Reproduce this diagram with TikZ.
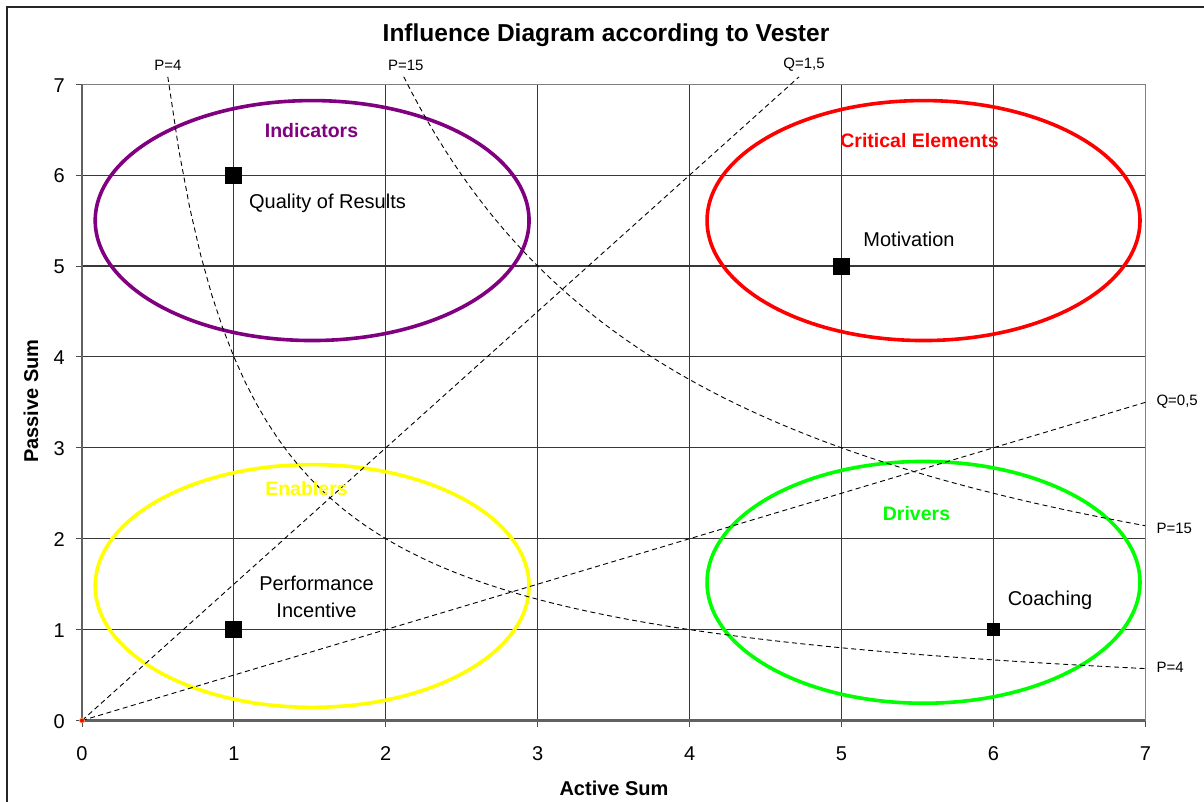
\documentclass[tikz,border=0pt]{standalone}
\usepackage{fontspec}
\setmainfont{Liberation Sans}
\begin{document}
\begin{tikzpicture}[x=1pt,y=-1pt,
  gridline/.style={line width=1.1pt,color=black!78},
  frameline/.style={line width=1.3pt,color=black!50},
  axisline/.style={line width=2.4pt,color=black!62},
  tickmark/.style={line width=1pt,color=black!70},
  guide/.style={line width=0.9pt,dash pattern=on 5pt off 3.5pt,color=black},
  zone/.style={line width=3.6pt},
  marker/.style={fill=black,draw=none,minimum size=#1,inner sep=0pt,rectangle},
  ticklbl/.style={font=\fontsize{20}{24}\selectfont,inner sep=0pt},
  itemlbl/.style={font=\fontsize{20}{26}\selectfont,inner sep=0pt,align=center},
  zonelbl/.style={font=\bfseries\fontsize{19.5}{24}\selectfont,inner sep=0pt},
  guidelbl/.style={font=\fontsize{15}{18}\selectfont,inner sep=0pt},
  titlelbl/.style={font=\bfseries\fontsize{24.5}{28}\selectfont,inner sep=0pt},
  axislbl/.style={font=\bfseries\fontsize{20}{24}\selectfont,inner sep=0pt}]
\definecolor{indic}{HTML}{800080}
\definecolor{crit}{HTML}{FF0000}
\definecolor{enab}{HTML}{FFFF00}
\definecolor{driv}{HTML}{00FF00}

\useasboundingbox (0,0) rectangle (1204,801);
\fill[white] (0,0) rectangle (1204,801);
% chart frame
\draw[line width=1.6pt,color=black!85] (7,7) rectangle (1220,820);

% title and axis titles
\node[titlelbl,anchor=base] (title) at (606,41.5) {Influence Diagram according to Vester};
\node[axislbl,anchor=base] (xtitle) at (614,795) {Active Sum};
\node[axislbl,rotate=90] (ytitle) at (31,401) {Passive Sum};

\begin{scope}[shift={(82,720.5)},x=151.9pt,y=90.9pt]
  % grid
  \foreach \i in {1,...,6} {
    \draw[gridline] (\i,0) -- (\i,7);
    \draw[gridline] (0,\i) -- (7,\i);
  }
  \draw[frameline] (0,7) -- (7,7) -- (7,0);
  % ticks
  \foreach \i in {0,...,7} {
    \draw[tickmark] (\i,0) -- ++(0,-6pt);
    \draw[tickmark] (0,\i) -- ++(-6pt,0);
    \node[ticklbl,anchor=base] (xt\i) at ([yshift=-39.5pt]\i,0) {\i};
    \node[ticklbl,anchor=east] (yt\i) at ([xshift=-17pt,yshift=-1pt]0,\i) {\i};
  }
  \draw[axisline,line width=2pt] (0,0) -- (0,7);
  \draw[axisline] (0,0) -- (7,0);

  % zones
  \draw[zone,indic] (1.515,5.5) ellipse [x radius=1.428, y radius=1.32];
  \draw[zone,crit]  (5.54,5.5)  ellipse [x radius=1.425, y radius=1.32];
  \draw[zone,enab]  (1.515,1.48) ellipse [x radius=1.428, y radius=1.335];
  \draw[zone,driv]  (5.54,1.52) ellipse [x radius=1.425, y radius=1.33];

  % guide curves P = const and lines Q = const
  \draw[guide] plot[domain=0.565:7,samples=90] (\x,{4/\x});
  \draw[guide] plot[domain=2.118:7,samples=90] (\x,{15/\x});
  \coordinate (o) at (0,0);
  \coordinate (q15) at (4.72,7.08);
  \coordinate (q05) at (7,3.5);
  \coordinate (p4t) at (0.565,7.08);
  \coordinate (p15t) at (2.118,7.08);
  \coordinate (p4r) at (7,0.5714);
  \coordinate (p15r) at (7,2.1429);
  \draw[guide] (o) -- (q15);
  \draw[guide] (o) -- (q05);

  \node[guidelbl,anchor=south] (lp4t) at ([yshift=6pt]p4t) {P=4};
  \node[guidelbl,anchor=south] (lp15t) at ([xshift=2pt,yshift=6pt]p15t) {P=15};
  \node[guidelbl,anchor=south] (lq15) at ([xshift=5pt,yshift=5pt]q15) {Q=1,5};
  \node[guidelbl,anchor=west] (lq05) at ([xshift=11pt,yshift=1pt]q05) {Q=0,5};
  \node[guidelbl,anchor=west] (lp15r) at ([xshift=11pt,yshift=-3pt]p15r) {P=15};
  \node[guidelbl,anchor=west] (lp4r) at ([xshift=11pt,yshift=1pt]p4r) {P=4};

  % origin marker
  \node[circle,fill=red,draw=orange!60,line width=0.6pt,minimum size=5pt,inner sep=0pt] (orig) at (0,0) {};

  % elements
  \node[marker=17pt] (m1) at (1,6) {};
  \node[marker=17pt] (m2) at (5,5) {};
  \node[marker=17pt] (m3) at (1,1) {};
  \node[marker=13pt] (m4) at (6,1) {};
\end{scope}

% element labels
\node[itemlbl,anchor=base] (l1) at (327.5,208.5) {Quality of Results};
\node[itemlbl,anchor=base] (l2) at (909,246) {Motivation};
\node[itemlbl,anchor=base] (l3a) at (316.5,590) {Performance};
\node[itemlbl,anchor=base] (l3b) at (316.5,617) {Incentive};
\node[itemlbl,anchor=base] (l4) at (1050,605.5) {Coaching};

% zone labels
\node[zonelbl,anchor=base,text=indic] (z1) at (311.5,137) {Indicators};
\node[zonelbl,anchor=base,text=crit]  (z2) at (919.5,147) {Critical Elements};
\node[zonelbl,anchor=base,text=enab]  (z3) at (306.5,495) {Enablers};
\node[zonelbl,anchor=base,text=driv]  (z4) at (916.5,520) {Drivers};
\end{tikzpicture}
\end{document}
